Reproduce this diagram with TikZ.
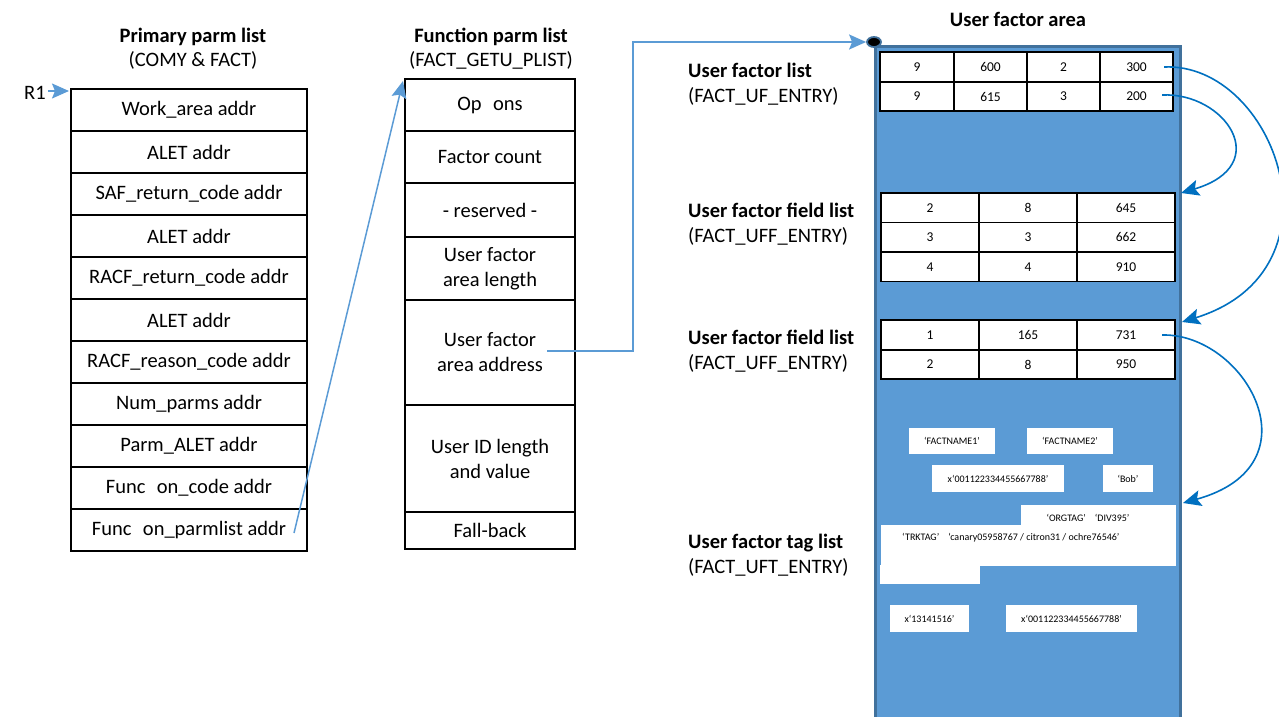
\documentclass[tikz,border=0pt]{standalone}
\usepackage{fontspec}
\setmainfont{Carlito}
\usetikzlibrary{arrows.meta,shapes.geometric}
\definecolor{lblue}{HTML}{5B9BD5}
\definecolor{dblue}{HTML}{0070C0}
\definecolor{bord}{HTML}{41719C}
\begin{document}
\begin{tikzpicture}[x=1pt,y=-1pt,
 prow/.style={draw, line width=1.2pt, minimum width=236pt, minimum height=42pt, inner sep=0pt, align=center, font=\fontsize{20.5}{25}\selectfont},
 frow/.style={draw, line width=1.2pt, minimum width=170pt, inner sep=0pt, align=center, font=\fontsize{20.5}{25}\selectfont},
 cell/.style={draw, line width=1.8pt, inner sep=0pt, font=\fontsize{13.5}{16}\selectfont},
 wbox/.style={fill=white, inner sep=0pt, font=\fontsize{10}{12}\selectfont},
 wtext/.style={inner sep=0pt, font=\fontsize{10}{12}\selectfont},
 ctitle/.style={align=center, font=\fontsize{20.5}{24}\selectfont},
 ltitle/.style={align=left, anchor=west, inner sep=0pt, font=\fontsize{20.5}{25}\selectfont},
 larrow/.style={lblue, line width=1.5pt, -{Stealth[length=17pt,width=15pt,inset=3pt]}},
 carrow/.style={dblue, line width=1.6pt, -{Stealth[length=18pt,width=16pt,inset=3.5pt]}}]
\useasboundingbox (0,0) rectangle (1279,717);

% ---------- Primary parm list ----------
\node[ctitle] (ptitle) at (193,49) {\textbf{Primary parm list}\\(COMY \& FACT)};
\node[prow] (p1) at (189,110) {Work\_area addr};
\node[prow] (p2) at (189,152) {ALET addr};
\node[prow] (p3) at (189,194) {SAF\_return\_code addr};
\node[prow] (p4) at (189,236) {ALET addr};
\node[prow] (p5) at (189,278) {RACF\_return\_code addr};
\node[prow] (p6) at (189,320) {ALET addr};
\node[prow] (p7) at (189,362) {RACF\_reason\_code addr};
\node[prow] (p8) at (189,404) {Num\_parms addr};
\node[prow] (p9) at (189,446) {Parm\_ALET addr};
\node[prow] (p10) at (189,488) {Func\hspace{0.56em}on\_code addr};
\node[prow] (p11) at (189,530) {Func\hspace{0.56em}on\_parmlist addr};
\node[inner sep=0pt, font=\fontsize{20.5}{25}\selectfont] (r1) at (35,93) {R1};
\coordinate (r1tip) at (69,91);
\draw[larrow] (r1.east) ++(2,-2) coordinate (r1s) -- (r1tip);

% ---------- Function parm list ----------
\node[ctitle] (ftitle) at (491,49) {\textbf{Function parm list}\\(FACT\_GETU\_PLIST)};
\node[frow, minimum height=52pt] (f1) at (490,105) {Op\hspace{0.56em}ons};
\node[frow, minimum height=52pt] (f2) at (490,157) {Factor count};
\node[frow, minimum height=54pt] (f3) at (490,210) {- reserved -};
\node[frow, minimum height=63pt] (f4) at (490,268.5) {User factor\\area length};
\node[frow, minimum height=105pt] (f5) at (490,352.5) {User factor\\area address};
\node[frow, minimum height=107pt] (f6) at (490,458.5) {User ID length\\and value};
\node[frow, minimum height=37pt] (f7) at (490,530.5) {Fall-back};

\coordinate (plstart) at (294,533);
\coordinate (pltip) at (403,81);
\draw[larrow] (plstart) -- (pltip);

% ---------- User factor area ----------
\node[inner sep=0pt, font=\fontsize{20.5}{24}\selectfont\bfseries] (utitle) at (1018,19) {User factor area};
\fill[lblue] (875,47) rectangle (1180,720);
\draw[bord, line width=3pt] (875,720) -- (875,47) -- (1180,47) -- (1180,720);
\node[ellipse, fill=black, draw=bord, line width=1.8pt, minimum width=14pt, minimum height=10pt, inner sep=0pt] (dot) at (874,42) {};

\coordinate (uaddr) at (547,351);
\coordinate (bend) at (633,42);
\draw[larrow] (uaddr) -| (bend) -- (dot.west);

% labels
\node[ltitle] (l1) at (688,84.5) {\textbf{User factor list}\\(FACT\_UF\_ENTRY)};
\node[ltitle] (l2) at (688,224.5) {\textbf{User factor field list}\\(FACT\_UFF\_ENTRY)};
\node[ltitle] (l3) at (688,351.5) {\textbf{User factor field list}\\(FACT\_UFF\_ENTRY)};
\node[ltitle] (l4) at (688,555.5) {\textbf{User factor tag list}\\(FACT\_UFT\_ENTRY)};

% user factor list table
\node[cell, fill=white, minimum width=74pt, minimum height=30pt] (u11) at (917,67) {9};
\node[cell, fill=white, minimum width=73pt, minimum height=30pt] (u12) at (990.5,67) {600};
\node[cell, fill=white, minimum width=73pt, minimum height=30pt] (u13) at (1063.5,67) {2};
\node[cell, fill=white, minimum width=73pt, minimum height=30pt] (u14) at (1136.5,67) {300};
\node[cell, fill=white, minimum width=74pt, minimum height=29pt] (u21) at (917,96.5) {9};
\node[cell, fill=white, minimum width=73pt, minimum height=29pt] (u22) at (990.5,96.5) {615};
\node[cell, fill=white, minimum width=73pt, minimum height=29pt] (u23) at (1063.5,96.5) {3};
\node[cell, fill=white, minimum width=73pt, minimum height=29pt] (u24) at (1136.5,96.5) {200};

% field list 1
\node[cell, fill=white, minimum width=98pt, minimum height=29.5pt] (a11) at (930,207.75) {2};
\node[cell, fill=white, minimum width=98pt, minimum height=29.5pt] (a12) at (1028,207.75) {8};
\node[cell, fill=white, minimum width=98pt, minimum height=29.5pt] (a13) at (1126,207.75) {645};
\node[cell, fill=white, minimum width=98pt, minimum height=29.5pt] (a21) at (930,237.25) {3};
\node[cell, fill=white, minimum width=98pt, minimum height=29.5pt] (a22) at (1028,237.25) {3};
\node[cell, fill=white, minimum width=98pt, minimum height=29.5pt] (a23) at (1126,237.25) {662};
\node[cell, fill=white, minimum width=98pt, minimum height=29.5pt] (a31) at (930,266.75) {4};
\node[cell, fill=white, minimum width=98pt, minimum height=29.5pt] (a32) at (1028,266.75) {4};
\node[cell, fill=white, minimum width=98pt, minimum height=29.5pt] (a33) at (1126,266.75) {910};

% field list 2
\node[cell, fill=white, minimum width=98pt, minimum height=30pt] (b11) at (930,335) {1};
\node[cell, fill=white, minimum width=98pt, minimum height=30pt] (b12) at (1028,335) {165};
\node[cell, fill=white, minimum width=98pt, minimum height=30pt] (b13) at (1126,335) {731};
\node[cell, fill=white, minimum width=98pt, minimum height=29pt] (b21) at (930,364.5) {2};
\node[cell, fill=white, minimum width=98pt, minimum height=29pt] (b22) at (1028,364.5) {8};
\node[cell, fill=white, minimum width=98pt, minimum height=29pt] (b23) at (1126,364.5) {950};

% white boxes
\node[wbox, minimum width=86pt, minimum height=26pt] (fn1) at (952,441) {‘FACTNAME1’};
\node[wbox, minimum width=86pt, minimum height=26pt] (fn2) at (1070,441) {‘FACTNAME2’};
\node[wbox, minimum width=132pt, minimum height=27pt] (xid) at (998,478.5) {x‘001122334455667788’};
\node[wbox, minimum width=50pt, minimum height=27pt] (bob) at (1128,478.5) {‘Bob’};
\fill[white] (1021,505) rectangle (1176,566);
\fill[white] (881,525) rectangle (1176,566);
\fill[white] (880,565) rectangle (980,584);
\node[wtext] (org) at (1088,518) {‘ORGTAG’\hspace{0.9em}‘DIV395’};
\node[wtext, anchor=west] (trk) at (902,538) {‘TRKTAG’\hspace{0.9em}‘canary05958767 / citron31 / ochre76546’};
\node[wbox, minimum width=79pt, minimum height=27pt] (x13) at (929.5,618.5) {x‘13141516’};
\node[wbox, minimum width=131pt, minimum height=27pt] (x00) at (1071.5,618.5) {x‘001122334455667788’};

% curved arrows
\coordinate (c1s) at (1164,67);
\coordinate (c1e) at (1182,322);
\coordinate (c2s) at (1162,95);
\coordinate (c2e) at (1181,193);
\coordinate (c3s) at (1162,335);
\coordinate (c3e) at (1183,503);
\draw[carrow] (c1s) .. controls (1275,62) and (1350,270) .. (c1e);
\draw[carrow] (c2s) .. controls (1225,92) and (1275,165) .. (c2e);
\draw[carrow] (c3s) .. controls (1245,333) and (1320,465) .. (c3e);
\end{tikzpicture}
\end{document}
